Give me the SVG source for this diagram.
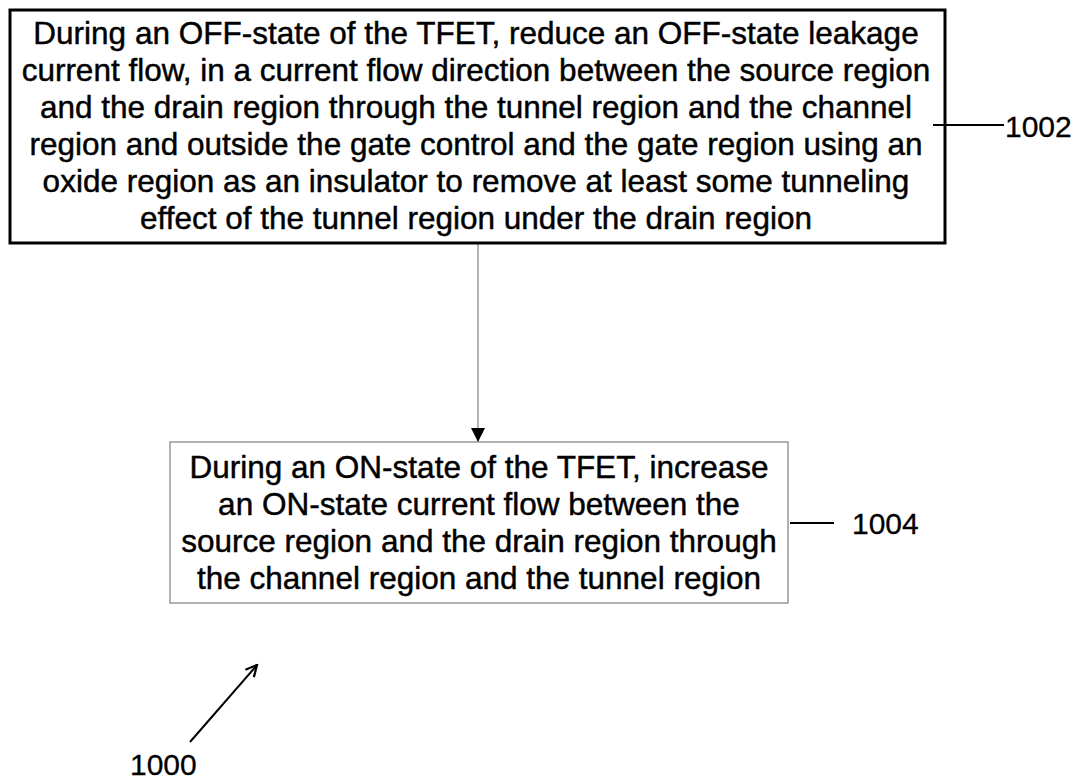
<svg xmlns="http://www.w3.org/2000/svg" width="1078" height="779" viewBox="0 0 1078 779">
  <style>
    .t { font-family: "Liberation Sans", Arial, sans-serif; font-size: 31.5px; fill: #000; stroke: #000; stroke-width: 0.45; text-anchor: middle; }
    .ref { font-family: "Liberation Sans", Arial, sans-serif; font-size: 30px; fill: #000; stroke: #000; stroke-width: 0.3; }
    .lead { stroke: #000; stroke-width: 2; fill: none; }
  </style>
  <defs>
    <marker id="solid" viewBox="0 0 14 14" refX="14" refY="7" markerWidth="14" markerHeight="14" markerUnits="userSpaceOnUse" orient="auto">
      <path d="M0,0 L14,7 L0,14 Z" fill="#000"/>
    </marker>
    <marker id="open" viewBox="0 0 10 10" refX="9" refY="5" markerWidth="14" markerHeight="14" markerUnits="userSpaceOnUse" orient="auto">
      <path d="M1,1 L9,5 L1,9" fill="none" stroke="#000" stroke-width="1.6"/>
    </marker>
  </defs>
  <rect width="1078" height="779" fill="#fff"/>

  <g id="connectors">
    <line x1="478" y1="244" x2="478" y2="442" stroke="#888" stroke-width="1.3" marker-end="url(#solid)"/>
  </g>

  <g id="step-1002">
    <rect x="10" y="10" width="935" height="233" fill="#fff" stroke="#000" stroke-width="3"/>
    <text class="t" x="476" y="44">During an OFF-state of the TFET, reduce an OFF-state leakage</text>
    <text class="t" x="476" y="81">current flow, in a current flow direction between the source region</text>
    <text class="t" x="476" y="118">and the drain region through the tunnel region and the channel</text>
    <text class="t" x="476" y="155">region and outside the gate control and the gate region using an</text>
    <text class="t" x="476" y="192">oxide region as an insulator to remove at least some tunneling</text>
    <text class="t" x="476" y="229">effect of the tunnel region under the drain region</text>
    <line class="lead" x1="933" y1="125" x2="1004" y2="125"/>
    <text class="ref" x="1005" y="137">1002</text>
  </g>

  <g id="step-1004">
    <rect x="170" y="442" width="618" height="161" fill="#fff" stroke="#888" stroke-width="1.3"/>
    <text class="t" x="479" y="478">During an ON-state of the TFET, increase</text>
    <text class="t" x="479" y="515">an ON-state current flow between the</text>
    <text class="t" x="479" y="552">source region and the drain region through</text>
    <text class="t" x="479" y="589">the channel region and the tunnel region</text>
    <line class="lead" x1="790" y1="523" x2="834" y2="523"/>
    <text class="ref" x="852" y="534">1004</text>
  </g>

  <g id="figure-1000">
    <line class="lead" x1="190" y1="742" x2="257" y2="665" stroke-width="1.8" marker-end="url(#open)"/>
    <text class="ref" x="130" y="775">1000</text>
  </g>
</svg>
